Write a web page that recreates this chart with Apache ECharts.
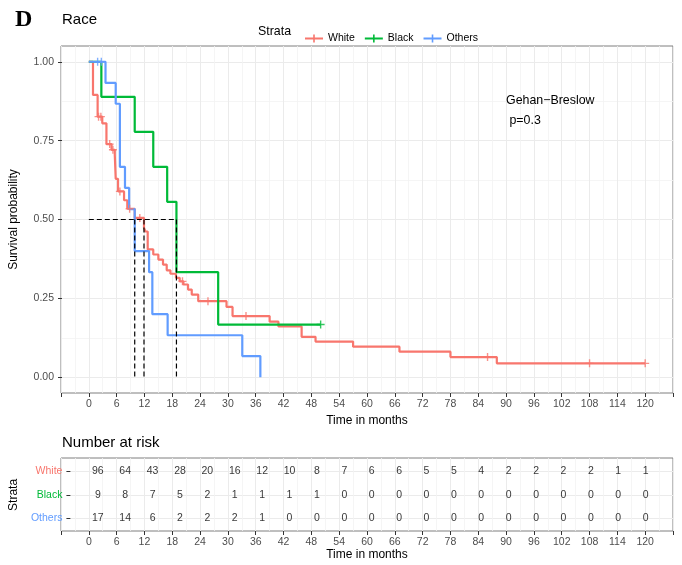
<!DOCTYPE html>
<html><head><meta charset="utf-8">
<script src="https://cdn.jsdelivr.net/npm/echarts@6/dist/echarts.min.js"></script>
<style>html,body{margin:0;padding:0;background:#fff}#c{width:682px;height:565px}</style>
</head><body><div id="c"></div>
<script>
// ---- data ----
const strata = ['White', 'Black', 'Others'];
const strataColors = ['#F8766D', '#00BA38', '#619CFF'];

const whiteCurve = [[0,1],[0.9,0.895],[1.9,0.826],[2.9,0.805],[3.8,0.739],[4.9,0.721],[5.6,0.705],[5.8,0.629],[6.3,0.589],[7.6,0.561],[8.3,0.534],[9.9,0.505],[11.9,0.473],[12.2,0.462],[12.7,0.405],[13.9,0.389],[15.0,0.373],[16.0,0.357],[16.8,0.339],[17.6,0.328],[18.8,0.315],[19.6,0.304],[20.4,0.294],[21.4,0.278],[22.2,0.262],[23.6,0.241],[29.7,0.223],[31.0,0.194],[39.0,0.176],[40.9,0.161],[45.9,0.128],[48.9,0.113],[57.0,0.097],[67.0,0.081],[78.0,0.064],[88.0,0.044],[120,0.044]];
const blackCurve = [[0,1],[2.7,0.889],[9.9,0.778],[13.9,0.667],[16.9,0.556],[18.9,0.333],[27.9,0.167],[50,0.167]];
const othersCurve = [[0,1],[3.6,0.933],[5.8,0.867],[6.7,0.667],[7.8,0.600],[8.7,0.533],[9.9,0.400],[13.0,0.333],[13.7,0.200],[17.0,0.133],[33.1,0.067],[37.0,0]];

const whiteCensor = [[2.1,0.826],[2.6,0.826],[4.5,0.739],[5.2,0.721],[6.7,0.589],[8.8,0.534],[11.0,0.505],[20.2,0.304],[25.7,0.241],[33.9,0.194],[86,0.064],[108,0.044],[120,0.044]];
const blackCensor = [[50,0.167]];
const othersCensor = [[1.9,1],[2.7,1]];

const medianTimes = [9.9, 11.9, 18.9];
const medianLevel = 0.5;

const riskTimes = [0,6,12,18,24,30,36,42,48,54,60,66,72,78,84,90,96,102,108,114,120];
const riskWhite = [96,64,43,28,20,16,12,10,8,7,6,6,5,5,4,2,2,2,2,1,1];
const riskBlack = [9,8,7,5,2,1,1,1,1,0,0,0,0,0,0,0,0,0,0,0,0];
const riskOthers = [17,14,6,2,2,2,1,0,0,0,0,0,0,0,0,0,0,0,0,0,0];

const pText = 'Gehan\u2212Breslow\n p=0.3';

// ---- chart ----
const FONT = 'Liberation Sans, Arial, sans-serif';
const chart = echarts.init(document.getElementById('c'), null, {renderer: 'canvas'});
const curves = [whiteCurve, blackCurve, othersCurve];
const censors = [whiteCensor, blackCensor, othersCensor];
const risks = [riskWhite, riskBlack, riskOthers];

const plusSym = 'path://M0,3.3L8,3.3L8,4.7L0,4.7Z M3.3,0L4.7,0L4.7,8L3.3,8Z';
const legendIcon = 'path://M0,3.1L18,3.1L18,4.9L0,4.9Z M8.2,0L9.8,0L9.8,8L8.2,8Z';

const gridLine = {show: true, lineStyle: {color: '#EBEBEB', width: 1}};
const minorLine = {show: true, lineStyle: {color: '#F2F2F2', width: 0.8}};
const tickStyle = {lineStyle: {color: '#333', width: 1}, length: 4, inside: false};
const labelStyle = {color: '#4D4D4D', fontSize: 10.5, fontFamily: FONT};

function xAxisFull(gridIndex) {
  return {
    type: 'value', gridIndex: gridIndex, min: -6, max: 126, interval: 6, position: 'bottom',
    axisLine: {show: false, onZero: false},
    axisTick: Object.assign({show: true}, tickStyle),
    axisLabel: Object.assign({show: true, margin: 6,
      formatter: v => (v >= 0 && v <= 120 ? String(v) : '')}, labelStyle),
    splitLine: gridLine,
    minorTick: {show: false, splitNumber: 2},
    minorSplitLine: minorLine,
    name: 'Time in months', nameLocation: 'middle', nameGap: 15,
    nameTextStyle: {fontSize: 12, color: '#000', fontFamily: FONT}
  };
}

const series = [];
strata.forEach((s, i) => {
  series.push({
    name: s, type: 'line', xAxisIndex: 0, yAxisIndex: 0, step: 'end',
    data: curves[i], symbol: 'none', color: strataColors[i],
    lineStyle: {width: 2.2, color: strataColors[i]}, z: 3
  });
});
strata.forEach((s, i) => {
  series.push({
    name: s + ' censored', type: 'scatter', xAxisIndex: 0, yAxisIndex: 0,
    data: censors[i], symbol: plusSym, symbolSize: 8,
    itemStyle: {color: strataColors[i]}, z: 4
  });
});
const maxMedian = Math.max.apply(null, medianTimes);
series.push({
  type: 'line', xAxisIndex: 0, yAxisIndex: 0, symbol: 'none',
  data: [[0, medianLevel], [maxMedian, medianLevel]],
  lineStyle: {color: '#000', width: 1.2, type: [5, 3]}, z: 5, silent: true
});
medianTimes.forEach(t => {
  series.push({
    type: 'line', xAxisIndex: 0, yAxisIndex: 0, symbol: 'none',
    data: [[t, medianLevel], [t, 0]],
    lineStyle: {color: '#000', width: 1.2, type: [5, 3]}, z: 5, silent: true
  });
});
const riskData = [];
strata.forEach((s, i) => {
  riskTimes.forEach((t, j) => riskData.push([t, s, risks[i][j]]));
});
series.push({
  type: 'scatter', xAxisIndex: 3, yAxisIndex: 3, data: riskData,
  symbolSize: 1, itemStyle: {color: 'rgba(0,0,0,0)'},
  label: {show: true, position: 'inside', color: '#000', fontSize: 10.5, fontFamily: FONT,
          formatter: p => String(p.value[2])},
  silent: true
});

const rich = {};
strata.forEach((s, i) => { rich[s] = {color: strataColors[i], fontSize: 10.5, fontFamily: FONT}; });

const option = {
  backgroundColor: '#fff',
  animation: false,
  textStyle: {fontFamily: FONT},
  legend: {
    data: strata.map((s, i) => ({name: s, icon: legendIcon})),
    left: 300, top: 28, itemWidth: 18, itemHeight: 8, itemGap: 10,
    textStyle: {fontSize: 10.5, color: '#000', fontFamily: FONT}
  },
  grid: [
    {left: 61, right: 9, top: 46, height: 347, show: true, borderColor: '#7f7f7f', borderWidth: 1, backgroundColor: 'transparent'},
    {left: 61, right: 9, top: 61.8, height: 315.4},
    {left: 61, right: 9, top: 458, height: 73, show: true, borderColor: '#7f7f7f', borderWidth: 1, backgroundColor: 'transparent'},
    {left: 61, right: 9, top: 471.6, height: 46.6}
  ],
  xAxis: [
    xAxisFull(0),
    {type: 'value', gridIndex: 1, min: -6, max: 126, show: false, axisLine: {onZero: false}},
    Object.assign(xAxisFull(2), {nameGap: 17}),
    {type: 'value', gridIndex: 3, min: -6, max: 126, show: false, axisLine: {onZero: false}}
  ],
  yAxis: [
    {type: 'value', gridIndex: 0, min: -0.05, max: 1.05, show: false, axisLine: {onZero: false}},
    {type: 'value', gridIndex: 1, min: 0, max: 1, interval: 0.25, position: 'left',
     axisLine: {show: false, onZero: false},
     axisTick: Object.assign({show: true}, tickStyle),
     axisLabel: Object.assign({margin: 8, formatter: v => v.toFixed(2)}, labelStyle),
     splitLine: gridLine, minorTick: {show: false, splitNumber: 2}, minorSplitLine: minorLine,
     name: 'Survival probability', nameLocation: 'middle', nameGap: 42,
     nameTextStyle: {fontSize: 12, color: '#000', fontFamily: FONT}},
    {type: 'value', gridIndex: 2, min: 0, max: 1, show: false, axisLine: {onZero: false}},
    {type: 'category', gridIndex: 3, data: ['Others', 'Black', 'White'], boundaryGap: false, position: 'left',
     axisLine: {show: false, onZero: false},
     axisTick: Object.assign({show: true}, tickStyle),
     axisLabel: {margin: 8, formatter: v => '{' + v + '|' + v + '}', rich: rich},
     splitLine: gridLine,
     name: 'Strata', nameLocation: 'middle', nameGap: 42,
     nameTextStyle: {fontSize: 12, color: '#000', fontFamily: FONT}}
  ],
  graphic: [
    {type: 'text', left: 15, top: 8, style: {text: 'D', font: 'bold 24px "Liberation Serif", serif', fill: '#000'}},
    {type: 'text', left: 62, top: 12, style: {text: 'Race', font: '15px ' + FONT, fill: '#000'}},
    {type: 'text', left: 258, top: 26, style: {text: 'Strata', font: '12.4px ' + FONT, fill: '#000'}},
    {type: 'text', left: 506, top: 91, z: 10, style: {text: pText, font: '12.4px ' + FONT, fill: '#000', lineHeight: 20}},
    {type: 'text', left: 62, top: 435, style: {text: 'Number at risk', font: '15px ' + FONT, fill: '#000'}}
  ],
  series: series
};
chart.setOption(option);
</script>
</body></html>
